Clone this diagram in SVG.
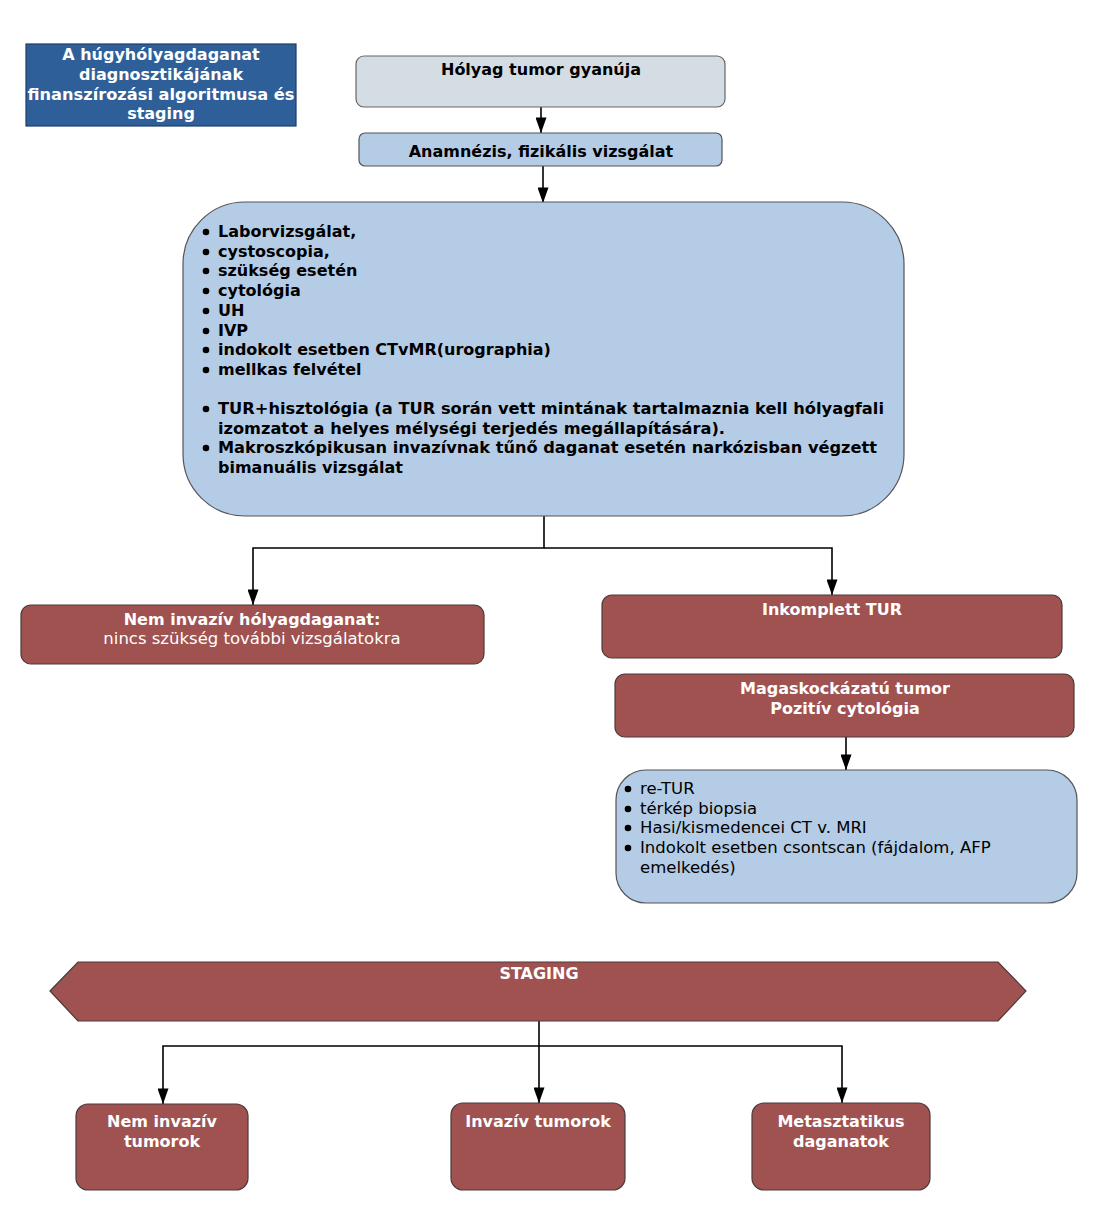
<svg xmlns="http://www.w3.org/2000/svg" width="1111" height="1231" viewBox="0 0 1111 1231">
<defs>
<marker id="arrL" viewBox="0 0 14 10" refX="14" refY="5" markerWidth="16" markerHeight="11" markerUnits="userSpaceOnUse" orient="auto">
<path d="M0,0 L14,5 L0,10 z" fill="#000"/>
</marker>
</defs>
<style>
text{font-family:"DejaVu Sans","Verdana",sans-serif;font-size:16.5px}
.b{font-weight:bold;font-size:16px}
.w{fill:#fff}
.c{text-anchor:middle}
.red{fill:#a05251;stroke:#4a3a3a;stroke-width:1.2}
.blue{fill:#b5cce6;stroke:#555;stroke-width:1.2}
.gray{fill:#d4dce4;stroke:#666;stroke-width:1.2}
.ln{fill:none;stroke:#000;stroke-width:1.6}
.dot{fill:#000}
</style>
<rect width="1111" height="1231" fill="#fff"/>

<g id="title">
<rect x="26" y="44" width="270" height="82" fill="#2f5f98" stroke="#1d3d66" stroke-width="1.2"/>
<text class="b w c" x="161" y="60">A húgyhólyagdaganat</text>
<text class="b w c" x="161" y="80">diagnosztikájának</text>
<text class="b w c" x="161" y="100" textLength="267" lengthAdjust="spacingAndGlyphs">finanszírozási algoritmusa és</text>
<text class="b w c" x="161" y="119">staging</text>
</g>

<g id="connectors">
<line class="ln" x1="541" y1="107" x2="541" y2="133" marker-end="url(#arrL)"/>
<line class="ln" x1="543" y1="166" x2="543" y2="203" marker-end="url(#arrL)"/>
<polyline class="ln" points="544,516 544,548 253,548 253,605" marker-end="url(#arrL)"/>
<polyline class="ln" points="544,548 832,548 832,595" marker-end="url(#arrL)"/>
<line class="ln" x1="846" y1="737" x2="846" y2="770" marker-end="url(#arrL)"/>
<line class="ln" x1="539" y1="1021" x2="539" y2="1103" marker-end="url(#arrL)"/>
<polyline class="ln" points="539,1046 163,1046 163,1104" marker-end="url(#arrL)"/>
<polyline class="ln" points="539,1046 842,1046 842,1103" marker-end="url(#arrL)"/>
</g>

<g id="n1">
<rect class="gray" x="356" y="56" width="369" height="51" rx="8"/>
<text class="b c" x="541" y="75">Hólyag tumor gyanúja</text>
</g>

<g id="n2">
<rect class="blue" x="359" y="133" width="363" height="33" rx="6"/>
<text class="b c" x="541" y="157">Anamnézis, fizikális vizsgálat</text>
</g>

<g id="n3">
<rect class="blue" x="183" y="202" width="721" height="314" rx="62"/>
<circle class="dot" cx="206" cy="232" r="3.3"/><text class="b" x="218" y="237">Laborvizsgálat,</text>
<circle class="dot" cx="206" cy="252" r="3.3"/><text class="b" x="218" y="257">cystoscopia,</text>
<circle class="dot" cx="206" cy="271" r="3.3"/><text class="b" x="218" y="276">szükség esetén</text>
<circle class="dot" cx="206" cy="291" r="3.3"/><text class="b" x="218" y="296">cytológia</text>
<circle class="dot" cx="206" cy="311" r="3.3"/><text class="b" x="218" y="316">UH</text>
<circle class="dot" cx="206" cy="331" r="3.3"/><text class="b" x="218" y="336">IVP</text>
<circle class="dot" cx="206" cy="350" r="3.3"/><text class="b" x="218" y="355">indokolt esetben CTvMR(urographia)</text>
<circle class="dot" cx="206" cy="370" r="3.3"/><text class="b" x="218" y="375">mellkas felvétel</text>
<circle class="dot" cx="206" cy="409" r="3.3"/><text class="b" x="218" y="414" textLength="666" lengthAdjust="spacingAndGlyphs">TUR+hisztológia (a TUR során vett mintának tartalmaznia kell hólyagfali</text>
<text class="b" x="218" y="434" textLength="507" lengthAdjust="spacingAndGlyphs">izomzatot a helyes mélységi terjedés megállapítására).</text>
<circle class="dot" cx="206" cy="448" r="3.3"/><text class="b" x="218" y="453" textLength="659" lengthAdjust="spacingAndGlyphs">Makroszkópikusan invazívnak tűnő daganat esetén narkózisban végzett</text>
<text class="b" x="218" y="473">bimanuális vizsgálat</text>
</g>

<g id="n4">
<rect class="red" x="21" y="605" width="463" height="59" rx="10"/>
<text class="b w c" x="252" y="625">Nem invazív hólyagdaganat:</text>
<text class="w c" x="252" y="644">nincs szükség további vizsgálatokra</text>
</g>

<g id="n5">
<rect class="red" x="602" y="595" width="460" height="63" rx="10"/>
<text class="b w c" x="832" y="615">Inkomplett TUR</text>
</g>

<g id="n6">
<rect class="red" x="615" y="674" width="459" height="63" rx="10"/>
<text class="b w c" x="845" y="694">Magaskockázatú tumor</text>
<text class="b w c" x="845" y="714">Pozitív cytológia</text>
</g>

<g id="n7">
<rect class="blue" x="616" y="770" width="461" height="133" rx="30"/>
<circle class="dot" cx="628" cy="789" r="3.3"/><text x="640" y="794">re-TUR</text>
<circle class="dot" cx="628" cy="809" r="3.3"/><text x="640" y="814">térkép biopsia</text>
<circle class="dot" cx="628" cy="828" r="3.3"/><text x="640" y="833">Hasi/kismedencei CT v. MRI</text>
<circle class="dot" cx="628" cy="848" r="3.3"/><text x="640" y="853">Indokolt esetben csontscan (fájdalom, AFP</text>
<text x="640" y="873">emelkedés)</text>
</g>

<g id="staging">
<polygon class="red" points="50,991 78,962 998,962 1026,991 998,1021 78,1021"/>
<text class="b w c" x="539" y="979">STAGING</text>
</g>

<g id="s1">
<rect class="red" x="76" y="1104" width="172" height="86" rx="12"/>
<text class="b w c" x="162" y="1127">Nem invazív</text>
<text class="b w c" x="162" y="1147">tumorok</text>
</g>
<g id="s2">
<rect class="red" x="451" y="1103" width="174" height="87" rx="12"/>
<text class="b w c" x="538" y="1127">Invazív tumorok</text>
</g>
<g id="s3">
<rect class="red" x="752" y="1103" width="178" height="87" rx="12"/>
<text class="b w c" x="841" y="1127">Metasztatikus</text>
<text class="b w c" x="841" y="1147">daganatok</text>
</g>
</svg>
